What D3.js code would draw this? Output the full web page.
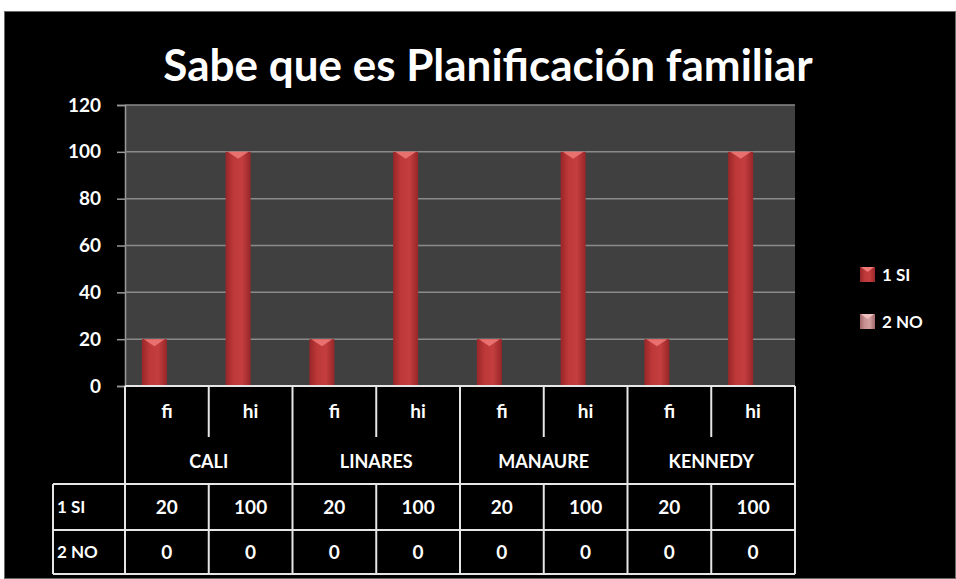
<!DOCTYPE html>
<html lang="en">
<head>
<meta charset="UTF-8">
<title>Sabe que es Planificación familiar</title>
<script src="https://d3js.org/d3.v7.min.js"></script>
<style>
  body { margin: 0; background: #fff; }
  svg { display: block; }
  text { font-family: Lato, 'Open Sans', sans-serif; fill: #fff; font-weight: bold; }
</style>
</head>
<body>
<div id="chart"></div>
<script>
// data
const groups = ["CALI", "LINARES", "MANAURE", "KENNEDY"];
const subCats = ["fi", "hi"];
const seriesNames = ["1 SI", "2 NO"];
const siValues = [20, 100, 20, 100, 20, 100, 20, 100];
const noValues = [0, 0, 0, 0, 0, 0, 0, 0];
const yTicks = [0, 20, 40, 60, 80, 100, 120];

const W = 956, H = 579;
const plot = { left: 125, right: 795, top: 105, bottom: 386 };

const svg = d3.select("#chart").append("svg")
    .attr("width", W).attr("height", H);

const defs = svg.append("defs");
function barGrad(id, dark, mid, light) {
    const g = defs.append("linearGradient").attr("id", id)
        .attr("x1", "0%").attr("x2", "100%").attr("y1", "0%").attr("y2", "0%");
    g.append("stop").attr("offset", "0%").attr("stop-color", dark);
    g.append("stop").attr("offset", "30%").attr("stop-color", mid);
    g.append("stop").attr("offset", "65%").attr("stop-color", light);
    g.append("stop").attr("offset", "100%").attr("stop-color", dark);
}
barGrad("gSi", "#982628", "#bd3838", "#c43e3f");
barGrad("gNo", "#a06868", "#c89090", "#d4a0a0");

// outer frame
svg.append("rect").attr("x", 4.5).attr("y", 11.5).attr("width", W - 5).attr("height", H - 12)
    .attr("fill", "#000").attr("stroke", "#6a6a6a");

// title
svg.append("text").attr("x", 488).attr("y", 81)
    .attr("text-anchor", "middle").attr("font-size", 44).attr("font-weight", "bold")
    .text("Sabe que es Planificación familiar");

// scales
const slots = d3.range(groups.length * subCats.length);
const x0 = d3.scaleBand().domain(slots).range([plot.left, plot.right]);
const x1 = d3.scaleBand().domain(seriesNames).range([0, x0.bandwidth()])
    .paddingInner(0).paddingOuter(0.675);
const y = d3.scaleLinear().domain([0, 120]).range([plot.bottom, plot.top]);

// plot background
svg.append("rect").attr("x", plot.left).attr("y", plot.top)
    .attr("width", plot.right - plot.left).attr("height", plot.bottom - plot.top)
    .attr("fill", "#404040");

// gridlines + axis
const yAxis = d3.axisLeft(y).tickValues(yTicks).tickSize(8).tickPadding(16);
const gy = svg.append("g").attr("transform", `translate(${plot.left},0)`).call(yAxis);
gy.select(".domain").attr("stroke", "#9a9a9a").attr("stroke-width", 1.5);
gy.selectAll(".tick line").attr("stroke", "#9a9a9a").attr("stroke-width", 1.5);
gy.selectAll(".tick text").attr("fill", "#fff").attr("font-size", 19)
    .attr("font-weight", "bold").attr("font-family", "Lato, sans-serif");
svg.append("g").selectAll("line").data(yTicks.filter(d => d > 0)).join("line")
    .attr("x1", plot.left).attr("x2", plot.right)
    .attr("y1", d => y(d)).attr("y2", d => y(d))
    .attr("stroke", "#8a8a8a").attr("stroke-width", 1.5);

// bars
const seriesData = [
    { name: "1 SI", values: siValues, fill: "url(#gSi)", cap: "#f07a78" },
    { name: "2 NO", values: noValues, fill: "url(#gNo)", cap: "#f0c0c0" }
];
seriesData.forEach(s => {
    const g = svg.append("g");
    s.values.forEach((v, i) => {
        if (v <= 0) return;
        const bx = x0(i) + x1(s.name), bw = x1.bandwidth();
        g.append("rect").attr("x", bx).attr("y", y(v))
            .attr("width", bw).attr("height", y(0) - y(v)).attr("fill", s.fill);
        g.append("path")
            .attr("d", `M${bx + 2},${y(v)} L${bx + bw - 2},${y(v)} L${bx + bw / 2},${y(v) + 7} Z`)
            .attr("fill", s.cap).attr("opacity", 0.85);
    });
});

// category table under the axis
const tbl = svg.append("g").attr("stroke", "#e6e6e6").attr("stroke-width", 2).attr("fill", "none");
const rowA = plot.bottom, rowB = 437, rowC = 484, rowD = 530, rowE = 574;
const tableLeft = 53;
tbl.append("line").attr("x1", plot.left).attr("x2", plot.right).attr("y1", rowA).attr("y2", rowA);
slots.forEach(i => {
    const xs = x0(i);
    const full = i % subCats.length === 0;
    tbl.append("line").attr("x1", xs).attr("x2", xs).attr("y1", rowA).attr("y2", full ? rowC : rowB);
});
tbl.append("line").attr("x1", plot.right).attr("x2", plot.right).attr("y1", rowA).attr("y2", rowC);

svg.append("g").selectAll("text").data(slots).join("text")
    .attr("x", i => x0(i) + x0.bandwidth() / 2).attr("y", 418)
    .attr("text-anchor", "middle").attr("font-size", 19)
    .text(i => subCats[i % subCats.length]);

const groupW = x0.bandwidth() * subCats.length;
svg.append("g").selectAll("text").data(groups).join("text")
    .attr("x", (d, i) => plot.left + groupW * i + groupW / 2).attr("y", 468)
    .attr("text-anchor", "middle").attr("font-size", 18)
    .text(d => d);

// data table rows
[rowC, rowD, rowE].forEach(r => {
    tbl.append("line").attr("x1", tableLeft).attr("x2", plot.right).attr("y1", r).attr("y2", r);
});
[tableLeft, ...slots.map(i => x0(i)), plot.right].forEach(xv => {
    tbl.append("line").attr("x1", xv).attr("x2", xv).attr("y1", rowC).attr("y2", rowE);
});
const rowMid = [(rowC + rowD) / 2, (rowD + rowE) / 2];
seriesData.forEach((s, r) => {
    svg.append("text").attr("x", tableLeft + 4).attr("y", rowMid[r] + 6)
        .attr("font-size", 17).text(s.name);
    svg.append("g").selectAll("text").data(s.values).join("text")
        .attr("x", (d, i) => x0(i) + x0.bandwidth() / 2).attr("y", rowMid[r] + 7)
        .attr("text-anchor", "middle").attr("font-size", 19)
        .text(d => d);
});

// legend
const legend = svg.append("g").attr("transform", "translate(860,267)");
seriesData.forEach((s, i) => {
    const row = legend.append("g").attr("transform", `translate(0,${i * 47})`);
    row.append("rect").attr("width", 15).attr("height", 15).attr("fill", s.fill);
    row.append("path").attr("d", "M1,0 L14,0 L7.5,5 Z").attr("fill", s.cap);
    row.append("text").attr("x", 22).attr("y", 14).attr("font-size", 17).text(s.name);
});
</script>
</body>
</html>
